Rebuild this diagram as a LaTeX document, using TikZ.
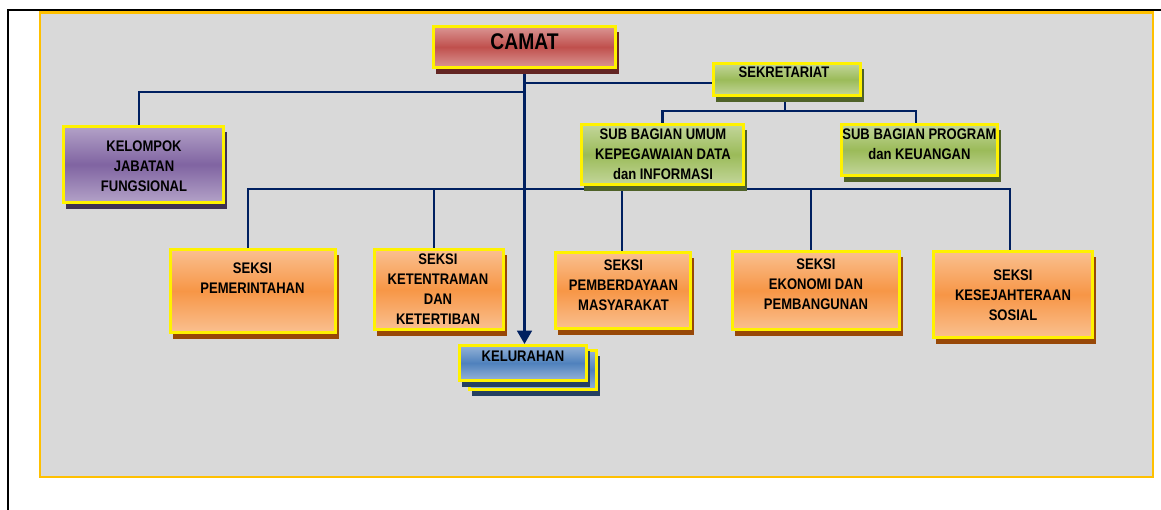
\documentclass[tikz,border=0pt]{standalone}
\usepackage{fontspec}
\newfontfamily\orgfont{Liberation Sans}[FakeStretch=0.85]
\usetikzlibrary{shadows,backgrounds,fit,arrows.meta}
\definecolor{bgray}{HTML}{D9D9D9}
\definecolor{frameor}{HTML}{FFC000}
\definecolor{navyln}{HTML}{002060}
\definecolor{redlt}{HTML}{DA9694}
\definecolor{redmd}{HTML}{C0504D}
\definecolor{redsh}{HTML}{632523}
\definecolor{purlt}{HTML}{B3A2C7}
\definecolor{purmd}{HTML}{8064A2}
\definecolor{pursh}{HTML}{3F3151}
\definecolor{grnlt}{HTML}{C3D69B}
\definecolor{grnmd}{HTML}{9BBB59}
\definecolor{grnsh}{HTML}{4F6228}
\definecolor{orlt}{HTML}{FAC090}
\definecolor{ormd}{HTML}{F79646}
\definecolor{orsh}{HTML}{984807}
\definecolor{blult}{HTML}{95B3D7}
\definecolor{blumd}{HTML}{4F81BD}
\definecolor{blush}{HTML}{254061}
\tikzset{
  box/.style 2 args={draw=yellow, line width=2.2pt, inner sep=-1.1pt,
    top color=#1, bottom color=#1, middle color=#2},
  sh/.style={drop shadow={shadow xshift=2.25pt, shadow yshift=-4.5pt, fill=#1, opacity=1}},
  redbox/.style={box={redlt}{redmd}, sh=redsh},
  purbox/.style={box={purlt}{purmd}, sh=pursh},
  grnbox/.style={box={grnlt}{grnmd}, sh=grnsh},
  orbox/.style={box={orlt}{ormd}, sh=orsh},
  blubox/.style={box={blult}{blumd}, sh=blush},
  txt/.style={font=\orgfont\bfseries\fontsize{11.5pt}{15pt}\selectfont, align=center, inner sep=0pt},
  conn/.style={draw=navyln, line width=1.9pt}
}
\begin{document}
\begin{tikzpicture}[x=0.75pt, y=-0.75pt]
\useasboundingbox (0,0) rectangle (1161,510);
\begin{scope}[on background layer]
\draw[draw=frameor, fill=bgray, line width=1.9pt] (40,12.5) rectangle (1153,477);
\end{scope}
\draw[line width=1.5pt] (8,510) -- (8,10.5) -- (1161,10.5);

\node[redbox, fit={(432,25) (617,69)}] (camat) {};
\node[txt, font=\orgfont\bfseries\fontsize{17pt}{20pt}\selectfont] (camatL) at (524.5,42) {CAMAT};
\node[purbox, fit={(62,125) (225,204)}] (kjf) {};
\node[txt] (kjfL) at (144,166) {KELOMPOK\\JABATAN\\FUNGSIONAL};
\node[grnbox, fit={(712,62) (862,97)}] (sekre) {};
\node[txt] (sekreL) at (784,72) {SEKRETARIAT};
\node[grnbox, fit={(580,123) (745,186)}] (umum) {};
\node[txt] (umumL) at (663,154) {SUB BAGIAN UMUM\\KEPEGAWAIAN DATA\\dan INFORMASI};
\node[grnbox, fit={(840,123) (999,177)}] (prog) {};
\node[txt] (progL) at (919.5,144.5) {SUB BAGIAN PROGRAM\\dan KEUANGAN};

\node[orbox, fit={(169,248) (337,334)}] (pem) {};
\node[txt] (pemL) at (252.5,278.5) {SEKSI\\PEMERINTAHAN};
\node[orbox, fit={(373,248) (505,331)}] (ket) {};
\node[txt] (ketL) at (438,289) {SEKSI\\KETENTRAMAN\\DAN\\KETERTIBAN};
\node[orbox, fit={(554,251) (692,330)}] (pmd) {};
\node[txt] (pmdL) at (623.5,285.5) {SEKSI\\PEMBERDAYAAN\\MASYARAKAT};
\node[orbox, fit={(731,250) (901,331)}] (eko) {};
\node[txt] (ekoL) at (816,284) {SEKSI\\EKONOMI DAN\\PEMBANGUNAN};
\node[orbox, fit={(932,250) (1094,339)}] (kes) {};
\node[txt] (kesL) at (1013,295) {SEKSI\\KESEJAHTERAAN\\SOSIAL};

\node[blubox, fit={(468,349) (598,391)}] (kel2) {};
\node[blubox, fit={(458,344) (588,382)}] (kel) {};
\node[txt] (kelL) at (523,356) {KELURAHAN};

\begin{scope}[on background layer]
\draw[conn, -{Triangle[length=10pt,width=11pt]}] (camat.south) -- (camat.south |- kel.north);
\draw[conn] (camat.south |- 0,83) -- (sekre.west |- 0,83);
\draw[conn] (camat.south |- 0,92) -| (139,0 |- kjf.north);
\draw[conn] (785,0 |- sekre.south) -- (785,111);
\draw[conn] (umum.north) |- (785,111) -| (916,0 |- prog.north);
\draw[conn] (248,0 |- pem.north) |- (1010,189) -- (1010,0 |- kes.north);
\foreach \x/\n in {434/ket,622/pmd,811/eko}
  \draw[conn] (\x,189) -- (\x,0 |- \n.north);
\end{scope}
\end{tikzpicture}
\end{document}
